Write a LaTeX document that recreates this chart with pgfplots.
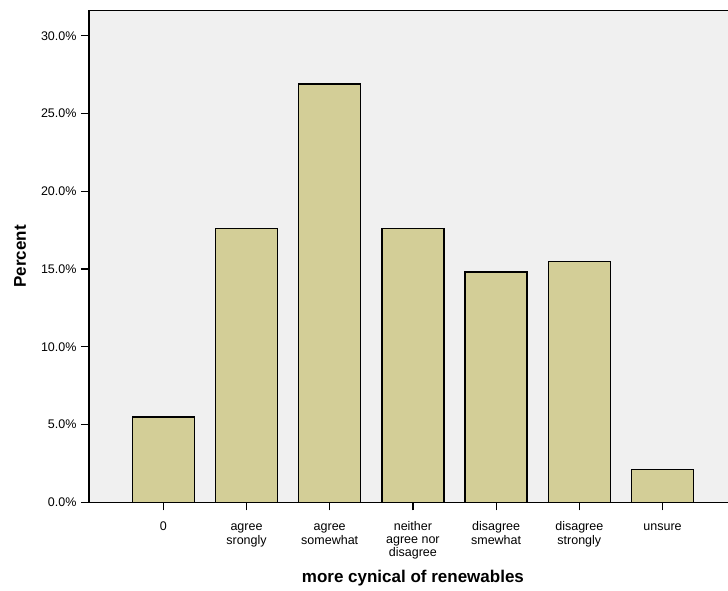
\documentclass[border=0pt]{standalone}
\usepackage{pgfplots}
\pgfplotsset{compat=1.18}
\usepackage{fontspec}
\setmainfont{Liberation Sans}
\definecolor{bg}{HTML}{F0F0F0}
\definecolor{barc}{HTML}{D3CE97}
\begin{document}
\begin{tikzpicture}[x=1pt,y=1pt]
\useasboundingbox (-89,-87.7) rectangle (639,502.3);
\begin{axis}[
 at={(0,0)}, anchor=south west,
 scale only axis, width=639pt, height=491.8pt,
 xmin=-0.893, xmax=6.787, ymin=0, ymax=31.63,
 axis lines*=left,
 axis line style={line width=1.2pt, black},
 axis background/.style={fill=bg},
 /pgf/number format/assume math mode=true,
 ytick={0,5,10,15,20,25,30},
 yticklabel={\pgfmathprintnumber[fixed,fixed zerofill,precision=1]{\tick}\%},
 xtick={0,1,2,3,4,5,6},
 xticklabels={\strut 0,{\strut agree\\srongly},{\strut agree\\somewhat},{\strut neither\\agree nor\\disagree},{\strut disagree\\smewhat},{\strut disagree\\strongly},\strut unsure},
 tick align=outside, major tick length=8pt,
 tick style={line width=1.2pt, black},
 yticklabel style={font=\fontsize{12.5}{13}\selectfont, xshift=-1pt},
 xticklabel style={font=\fontsize{12.5}{12.7}\selectfont, align=center, anchor=north, yshift=-8pt},
 ylabel={\textbf{Percent}},
 ylabel style={at={(axis description cs:0,0.5)}, anchor=center, yshift=69pt, font=\fontsize{17}{18}\selectfont},
 xlabel={\textbf{more cynical of renewables}},
 xlabel style={at={(axis cs:3,0)}, anchor=center, yshift=-75.7pt, font=\fontsize{17}{18}\selectfont},
 ybar, bar width=0.745,
 clip=false,
]
\addplot[fill=barc, draw=black, line width=1.5pt] coordinates {(0,5.5) (1,17.6) (2,26.9) (3,17.6) (4,14.8) (5,15.5) (6,2.1)};
\draw[line width=1.2pt, black] (rel axis cs:0,1) -- (rel axis cs:1,1);
\end{axis}
\end{tikzpicture}
\end{document}
